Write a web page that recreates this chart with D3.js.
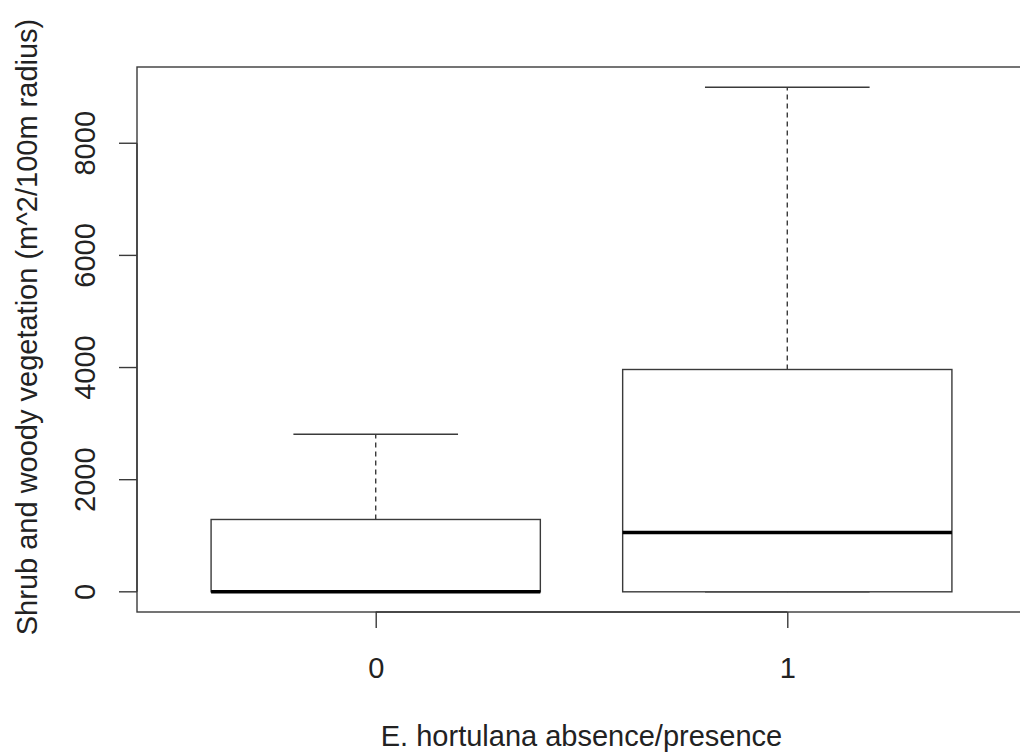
<!DOCTYPE html>
<html>
<head>
<meta charset="utf-8">
<script src="https://unpkg.com/d3@7/dist/d3.min.js"></script>
<style>
  body { margin: 0; background: #fff; }
  svg { display: block; }
  text { font-family: "Liberation Sans", Arial, sans-serif; fill: #222; }
</style>
</head>
<body>
<div class="chart"></div>
<script>
// boxplot stats
const groups = ["0", "1"]
const lowerWhisker = [0, 0]
const lowerQuartile = [0, 0]
const medians = [0, 1060]
const upperQuartile = [1290, 3965]
const upperWhisker = [2810, 9000]
const yTicks = [0, 2000, 4000, 6000, 8000]

const width = 1020, height = 753
const margin = ({top: 67, right: -6, bottom: 141, left: 137})
const fontSize = 29

const data = groups.map((g, i) => ({
    g, pos: i + 1,
    lo: lowerWhisker[i], q1: lowerQuartile[i], med: medians[i],
    q3: upperQuartile[i], hi: upperWhisker[i]
}))

// R style: xlim 0.5..2.5 extended by 4%
const xScale = d3.scaleLinear()
    .domain([0.42, 2.58])
    .range([margin.left, width - margin.right])

const yScale = d3.scaleLinear()
    .domain([-360, 9360])
    .range([height - margin.bottom, margin.top])

const svg = d3.select(".chart").append("svg")
    .attr("width", width)
    .attr("height", height)

const ink = "#3a3a3a"

// plot frame
svg.append("rect")
    .attr("x", margin.left)
    .attr("y", margin.top)
    .attr("width", width - margin.right - margin.left)
    .attr("height", height - margin.bottom - margin.top)
    .attr("fill", "none")
    .attr("stroke", ink)
    .attr("stroke-width", 1.4)

const boxes = svg.selectAll("g.box")
    .data(data)
    .enter()
    .append("g")
    .attr("class", "box")

// whiskers
boxes.append("line")
    .attr("x1", d => xScale(d.pos)).attr("x2", d => xScale(d.pos))
    .attr("y1", d => yScale(d.q3)).attr("y2", d => yScale(d.hi))
    .attr("stroke", ink).attr("stroke-width", 1.4)
    .attr("stroke-dasharray", "5,4")
boxes.append("line")
    .attr("x1", d => xScale(d.pos)).attr("x2", d => xScale(d.pos))
    .attr("y1", d => yScale(d.q1)).attr("y2", d => yScale(d.lo))
    .attr("stroke", ink).attr("stroke-width", 1.4)
    .attr("stroke-dasharray", "5,4")

// staples
boxes.append("line")
    .attr("x1", d => xScale(d.pos - 0.2)).attr("x2", d => xScale(d.pos + 0.2))
    .attr("y1", d => yScale(d.hi)).attr("y2", d => yScale(d.hi))
    .attr("stroke", ink).attr("stroke-width", 1.4)
boxes.append("line")
    .attr("x1", d => xScale(d.pos - 0.2)).attr("x2", d => xScale(d.pos + 0.2))
    .attr("y1", d => yScale(d.lo)).attr("y2", d => yScale(d.lo))
    .attr("stroke", ink).attr("stroke-width", 1.4)

// boxes
boxes.append("rect")
    .attr("x", d => xScale(d.pos - 0.4))
    .attr("y", d => yScale(d.q3))
    .attr("width", d => xScale(d.pos + 0.4) - xScale(d.pos - 0.4))
    .attr("height", d => yScale(d.q1) - yScale(d.q3))
    .attr("fill", "white")
    .attr("stroke", ink).attr("stroke-width", 1.4)

// medians
boxes.append("line")
    .attr("x1", d => xScale(d.pos - 0.4)).attr("x2", d => xScale(d.pos + 0.4))
    .attr("y1", d => yScale(d.med)).attr("y2", d => yScale(d.med))
    .attr("stroke", "#000").attr("stroke-width", 3.5)

// y axis
const yAxis = d3.axisLeft(yScale)
    .tickValues(yTicks)
    .tickFormat(d3.format("d"))
    .tickSize(18)
    .tickSizeOuter(0)

const gy = svg.append("g")
    .attr("transform", `translate(${margin.left},0)`)
    .call(yAxis)
    .attr("font-size", fontSize)
    .attr("font-family", null)
gy.select(".domain").attr("d", `M0,${yScale(0)}V${yScale(8000)}`)
gy.selectAll("line, path").attr("stroke", ink).attr("stroke-width", 1.4)
gy.selectAll(".tick").attr("transform", null)
gy.selectAll(".tick line").attr("y1", d => yScale(d)).attr("y2", d => yScale(d))
gy.selectAll(".tick text")
    .attr("transform", d => `rotate(-90, -52, ${yScale(d)})`)
    .attr("x", -52)
    .attr("y", d => yScale(d))
    .attr("dy", "0.35em")
    .attr("text-anchor", "middle")
    .attr("fill", "#222")

// x axis
const xAxis = d3.axisBottom(xScale)
    .tickValues(data.map(d => d.pos))
    .tickFormat((d, i) => groups[i])
    .tickSize(16)
    .tickPadding(29)
    .tickSizeOuter(0)

const gx = svg.append("g")
    .attr("transform", `translate(0,${height - margin.bottom})`)
    .call(xAxis)
    .attr("font-size", fontSize)
    .attr("font-family", null)
gx.select(".domain").attr("d", `M${xScale(1)},0H${xScale(2)}`)
gx.selectAll("line, path").attr("stroke", ink).attr("stroke-width", 1.4)
gx.selectAll(".tick text").attr("fill", "#222")

// axis titles
svg.append("text")
    .attr("x", (margin.left + width - margin.right) / 2)
    .attr("y", 746)
    .attr("text-anchor", "middle")
    .attr("font-size", fontSize)
    .text("E. hortulana absence/presence")

svg.append("text")
    .attr("transform", `translate(37,327) rotate(-90)`)
    .attr("text-anchor", "middle")
    .attr("font-size", fontSize)
    .text("Shrub and woody vegetation (m^2/100m radius)")
</script>
</body>
</html>
